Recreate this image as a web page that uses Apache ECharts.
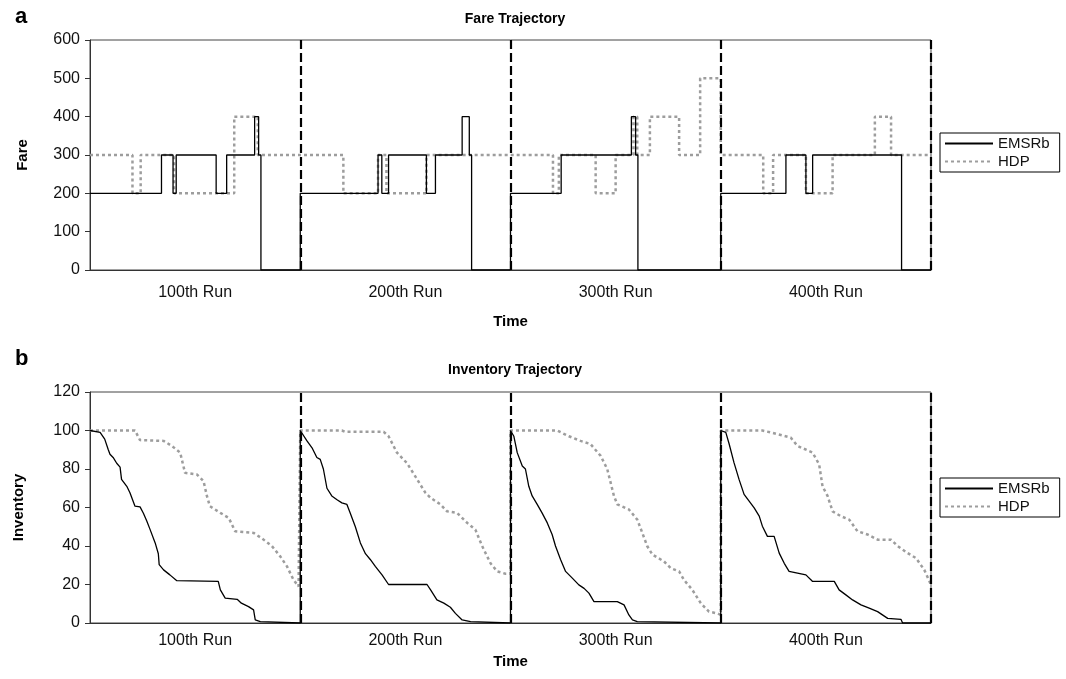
<!DOCTYPE html>
<html>
<head>
<meta charset="utf-8">
<script src="https://cdn.jsdelivr.net/npm/echarts@6/dist/echarts.min.js"></script>
<style>
html,body{margin:0;padding:0;background:#fff;}
#chart{width:1066px;height:679px;}
</style>
</head>
<body>
<div id="chart"></div>
<script>
// ---- data ----
const runLabels = ['100th Run', '200th Run', '300th Run', '400th Run'];
const fareTicks = [0, 100, 200, 300, 400, 500, 600];
const inventoryTicks = [0, 20, 40, 60, 80, 100, 120];

// Fare change points per run: [time within run (0-100), fare held until next change]
const emsrbFareRun1 = [[0,200],[34,300],[39.5,200],[41,300],[60,200],[65,300],[78.3,400],[80.2,300],[81.3,0]];
const emsrbFareRun2 = [[0,200],[37,300],[38.8,200],[42,300],[60,200],[64.3,300],[77,400],[80.4,300],[81.5,0]];
const emsrbFareRun3 = [[0,200],[24.1,300],[57.5,400],[59.5,300],[60.6,0]];
const emsrbFareRun4 = [[0,200],[31,300],[40.5,200],[43.7,300],[86,0]];

const hdpFareRun1 = [[0,300],[20.2,200],[24.1,300],[40,200],[68.6,400],[79.8,300]];
const hdpFareRun2 = [[0,300],[20.5,200],[37,300],[41,200],[60,300]];
const hdpFareRun3 = [[0,300],[20.2,200],[23,300],[40.5,200],[50,300],[58.5,400],[60.3,300],[66.3,400],[80.2,300],[90.2,500]];
const hdpFareRun4 = [[0,300],[20.2,200],[24.9,300],[40.5,200],[53.2,300],[73.3,400],[81,300]];

// Inventory points per run: [time within run, remaining inventory]
const emsrbInvRun1 = [[0,100],[4.8,99],[7,95.5],[8.7,90],[9.5,87.7],[11,86],[12.7,83],[14.3,81],[15,74.6],[17.5,71],[19,67.7],[20.6,63],[21.4,60.7],[23.8,60.3],[25.4,57],[27,53],[28.6,48.5],[31,41.6],[32.5,36],[32.9,30.3],[35,27.6],[38,25],[41.3,22],[61,21.6],[62,17.2],[64.3,12.9],[70,12.3],[72,10.3],[75.4,8.5],[77.8,6.8],[78.6,1.6],[81,0.7],[81.7,0],[100,0]];
const emsrbInvRun2 = [[0,100],[0.8,99],[3.2,94.6],[5.6,91],[7.9,86],[9.5,85],[11,80],[12.7,70],[15,66],[17.5,64],[19.8,62.4],[22.2,61.6],[23.8,57],[26.2,50],[28.6,41.6],[31,36],[33.3,33],[35.7,29.4],[38.9,25],[42,20],[60.3,20],[62,17.2],[65,12],[68.3,10.3],[71.4,8.2],[73.8,5],[77,1.6],[81,0.7],[81.7,0],[100,0]];
const emsrbInvRun3 = [[0,100],[1.6,97],[3.2,88.5],[5.6,81.6],[7.1,80],[8.7,71],[10.3,66],[12.7,61.6],[15,57.2],[17.5,52],[19.8,46],[21.4,40],[23.8,33],[26.2,26.8],[29.4,23.3],[32.5,19.8],[35,18],[37.3,15.5],[39.7,11.1],[50.8,11.1],[54,9.4],[56.3,4.2],[58,1.6],[60.3,0.7],[60.8,0],[100,0]];
const emsrbInvRun4 = [[0,100],[2.4,99],[4,93],[6.3,83.3],[8.7,74.6],[11.1,66.8],[13.5,63.3],[15.9,59.8],[18.3,55.5],[19.8,50.3],[22.2,45],[25.4,45],[27.8,36.3],[30.2,31],[32.5,26.8],[36.5,25.9],[40.5,25],[43.7,21.6],[54,21.6],[56.3,17.2],[59.5,14.6],[62.7,12],[66.7,9.4],[70.6,7.7],[74.6,5.9],[79.4,2.4],[85.7,1.9],[86.5,0],[100,0]];

const hdpInvRun1 = [[0,100],[21.4,100],[23.8,95],[35,94.6],[38.9,92],[42.9,88.5],[45.2,78],[50.8,77.2],[54,73.7],[55.6,66],[57,60.7],[62,57.2],[66,54.6],[69,47.7],[77.8,46.8],[81.7,44],[86.5,40],[90.5,34.6],[93.7,29.4],[96.8,22.4],[99.2,19],[100,19]];
const hdpInvRun2 = [[0,100],[19.8,100],[21.4,99.3],[39.7,99.3],[42,97],[46,88.5],[50.8,83],[54.8,76],[59.5,67.7],[62,65],[66.7,61.6],[69.8,58],[74.6,57.2],[79.4,52],[83.3,48.5],[86.5,40],[90.5,31],[93.7,26.8],[97.6,25.6],[100,25.6]];
const hdpInvRun3 = [[0,100],[22.2,100],[27.8,97],[33.3,94.6],[38,93],[42.9,86.8],[46,80],[49.2,66],[50.8,61.6],[56.3,59],[60.3,53.7],[62.7,46.8],[65,40],[67.5,35.5],[73,32],[76.2,28.5],[80.2,26.8],[82.5,22.4],[86.5,17.2],[90.5,10.3],[94.4,5.9],[98.4,5],[100,4.2]];
const hdpInvRun4 = [[0,100],[19.8,100],[23.8,99],[33.3,96.3],[36.5,92],[43.7,88.5],[46.8,82.4],[48.4,71],[50.8,66],[53.2,58],[57.1,55.5],[61.1,53.7],[65,47.7],[69.8,46],[74.6,43.3],[81,43.3],[84.1,40],[88.9,36.3],[92.9,33.7],[96.8,27.6],[100,19.8]];

const runLength = 100;
const runBoundaries = [100, 200, 300, 400];

// ---- build series data ----
function buildStep(runs) {
  const out = [];
  runs.forEach((changes, r) => {
    const off = r * runLength;
    changes.forEach((c, i) => {
      const end = i + 1 < changes.length ? changes[i + 1][0] : runLength;
      out.push([off + c[0], c[1]]);
      out.push([off + end, c[1]]);
    });
  });
  return out;
}
function buildLine(runs) {
  const out = [];
  runs.forEach((pts, r) => {
    const off = r * runLength;
    pts.forEach(p => out.push([off + p[0], p[1]]));
  });
  return out;
}

const emsrbFare = buildStep([emsrbFareRun1, emsrbFareRun2, emsrbFareRun3, emsrbFareRun4]);
const hdpFare = buildStep([hdpFareRun1, hdpFareRun2, hdpFareRun3, hdpFareRun4]);
const emsrbInv = buildLine([emsrbInvRun1, emsrbInvRun2, emsrbInvRun3, emsrbInvRun4]);
const hdpInv = buildLine([hdpInvRun1, hdpInvRun2, hdpInvRun3, hdpInvRun4]);

const FONT = "'Liberation Sans', Arial, Helvetica, sans-serif";
const chart = echarts.init(document.getElementById('chart'), null, {renderer: 'canvas'});

const solidStyle = {color: '#000', width: 1.3, type: 'solid'};
const dotStyle = {color: '#9d9d9d', width: 2.5, type: [3, 3]};
const sepLine = {
  silent: true, symbol: 'none', label: {show: false},
  lineStyle: {color: '#000', type: [9, 4], width: 2.2},
  data: runBoundaries.map(v => ({xAxis: v}))
};

function valueX(grid) {
  return {
    type: 'value', gridIndex: grid, min: 0, max: runLength * runLabels.length, interval: runLength,
    position: 'bottom', offset: 0,
    axisLine: {show: true, onZero: false, lineStyle: {color: '#333', width: 1}},
    axisTick: {show: false}, axisLabel: {show: false}, splitLine: {show: false}
  };
}
function catX(grid, margin, gap) {
  return {
    type: 'category', gridIndex: grid, data: runLabels, position: 'bottom', offset: 0,
    axisLine: {show: false}, axisTick: {show: false}, splitLine: {show: false},
    axisLabel: {fontSize: 16, color: '#111', fontFamily: FONT, margin: margin},
    name: 'Time', nameLocation: 'middle', nameGap: gap,
    nameTextStyle: {fontSize: 15, fontWeight: 'bold', color: '#000', fontFamily: FONT}
  };
}
function valueY(grid, ticks, name, gap) {
  return {
    type: 'value', gridIndex: grid, min: ticks[0], max: ticks[ticks.length - 1],
    interval: ticks[1] - ticks[0],
    axisLine: {show: true, lineStyle: {color: '#333', width: 1}},
    axisTick: {show: true, length: 5, lineStyle: {color: '#333'}},
    axisLabel: {fontSize: 16, color: '#111', fontFamily: FONT, margin: 10},
    splitLine: {show: false},
    name: name, nameLocation: 'middle', nameRotate: 90, nameGap: gap,
    nameTextStyle: {fontSize: 15, fontWeight: 'bold', color: '#000', fontFamily: FONT}
  };
}
function legendAt(top) {
  return {
    orient: 'vertical', left: 940, top: top, data: ['EMSRb', 'HDP'],
    borderColor: '#000', borderWidth: 1, padding: [3, 10, 3, 4], itemGap: 3,
    itemWidth: 48, itemHeight: 12,
    itemStyle: {opacity: 0},
    textStyle: {fontSize: 15, color: '#111', fontFamily: FONT},
    selectedMode: false
  };
}

chart.setOption({
  animation: false,
  backgroundColor: '#fff',
  textStyle: {fontFamily: FONT},
  title: [
    {text: 'Fare Trajectory', left: 510, textAlign: 'center', top: 7, textStyle: {fontSize: 14, fontWeight: 'bold', color: '#000', fontFamily: FONT}},
    {text: 'Inventory Trajectory', left: 510, textAlign: 'center', top: 358, textStyle: {fontSize: 14, fontWeight: 'bold', color: '#000', fontFamily: FONT}},
    {text: 'a', left: 10, top: 1, textStyle: {fontSize: 22, fontWeight: 'bold', color: '#000', fontFamily: FONT}},
    {text: 'b', left: 10, top: 343, textStyle: {fontSize: 22, fontWeight: 'bold', color: '#000', fontFamily: FONT}}
  ],
  legend: [legendAt(133), legendAt(478)],
  grid: [
    {left: 90, top: 40, width: 841, height: 230, show: true, borderColor: '#444', borderWidth: 1},
    {left: 90, top: 392, width: 841, height: 231, show: true, borderColor: '#444', borderWidth: 1}
  ],
  xAxis: [valueX(0), catX(0, 15, 44), valueX(1), catX(1, 10, 31)],
  yAxis: [valueY(0, fareTicks, 'Fare', 60), valueY(1, inventoryTicks, 'Inventory', 64)],
  series: [
    {name: 'HDP', type: 'line', xAxisIndex: 0, yAxisIndex: 0, data: hdpFare, symbol: 'none', lineStyle: dotStyle, itemStyle: {color: '#9d9d9d'}, z: 2},
    {name: 'EMSRb', type: 'line', xAxisIndex: 0, yAxisIndex: 0, data: emsrbFare, symbol: 'none', lineStyle: solidStyle, itemStyle: {color: '#000'}, z: 3, markLine: sepLine},
    {name: 'HDP', type: 'line', xAxisIndex: 2, yAxisIndex: 1, data: hdpInv, symbol: 'none', lineStyle: dotStyle, itemStyle: {color: '#9d9d9d'}, z: 2},
    {name: 'EMSRb', type: 'line', xAxisIndex: 2, yAxisIndex: 1, data: emsrbInv, symbol: 'none', lineStyle: solidStyle, itemStyle: {color: '#000'}, z: 3, markLine: sepLine}
  ]
});
</script>
</body>
</html>
